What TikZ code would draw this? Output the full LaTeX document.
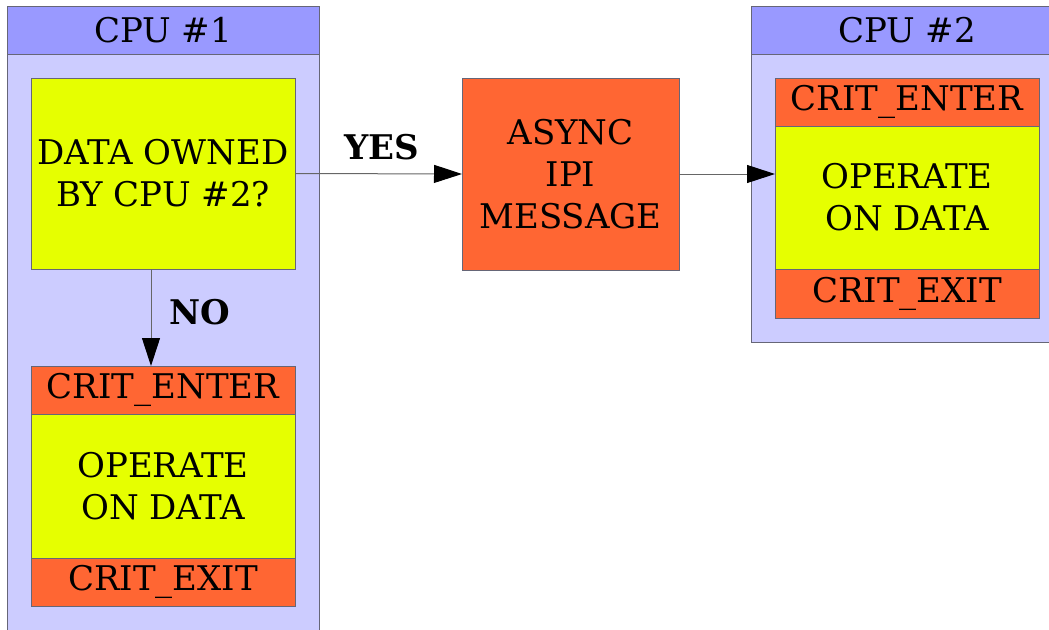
\documentclass[tikz,border=0pt]{standalone}
\usepackage{fontspec}
\setmainfont{DejaVu Serif}
\usetikzlibrary{arrows.meta}

\definecolor{headblue}{HTML}{9999FF}
\definecolor{panelblue}{HTML}{CCCCFF}
\definecolor{lime}{HTML}{E6FF00}
\definecolor{tangerine}{HTML}{FF6633}
\definecolor{edgegray}{HTML}{666677}
\definecolor{wiregray}{HTML}{666666}

\newcommand\labelsize{\fontsize{34}{42}\selectfont}

\begin{document}
\begin{tikzpicture}[x=1pt, y=-1pt,
  block/.style={draw=edgegray, line width=1pt, inner sep=0pt, outer sep=0pt,
    anchor=north west, align=center, font=\labelsize, text=black},
  panel/.style={block, fill=panelblue},
  header/.style={block, fill=headblue},
  yellowbox/.style={block, fill=lime},
  orangebox/.style={block, fill=tangerine},
  wire/.style={draw=wiregray, line width=1pt,
    -{Triangle[length=28pt, width=18pt, color=black]}},
  answer/.style={font=\labelsize\bfseries, inner sep=0pt}]

\path[use as bounding box] (0,0) rectangle (1049,629);
\begin{scope}
\clip (0,0) rectangle (1049,629);

% CPU #1 column
\node[panel, minimum width=312pt, minimum height=624pt] (cpuA) at (7,6) {};
\node[header, minimum width=312pt, minimum height=48pt] (headA) at (7,6) {CPU \#1};
\node[yellowbox, minimum width=264pt, minimum height=191pt] (ask) at (31,78)
  {DATA OWNED\\BY CPU \#2?};
\node[orangebox, minimum width=264pt, minimum height=48pt] (enterA) at (31,366) {CRIT\_ENTER};
\node[yellowbox, minimum width=264pt, minimum height=144pt] (workA) at (31,414)
  {OPERATE\\ON DATA};
\node[orangebox, minimum width=264pt, minimum height=48pt] (exitA) at (31,558) {CRIT\_EXIT};

% inter-processor message
\node[orangebox, minimum width=217pt, minimum height=192pt] (ipi) at (462,78)
  {ASYNC\\IPI\\MESSAGE};

% CPU #2 column
\node[panel, minimum width=312pt, minimum height=336pt] (cpuB) at (751,6) {};
\node[header, minimum width=312pt, minimum height=48pt] (headB) at (751,6) {CPU \#2};
\node[orangebox, minimum width=264pt, minimum height=48pt] (enterB) at (775,78) {CRIT\_ENTER};
\node[yellowbox, minimum width=264pt, minimum height=143pt] (workB) at (775,126)
  {OPERATE\\ON DATA};
\node[orangebox, minimum width=264pt, minimum height=49pt] (exitB) at (775,269) {CRIT\_EXIT};

% connectors
\draw[wire] (ask.east) -- (ipi.west);
\draw[wire] (ipi.east) -- (ipi.east -| workB.west);
\draw[wire] ([xshift=-12pt]ask.south) -- ([xshift=-12pt]ask.south |- enterA.north);

% branch labels
\node[answer] (yes) at (382,147) {YES};
\node[answer] (no) at (200,312) {NO};
\end{scope}
\end{tikzpicture}
\end{document}
